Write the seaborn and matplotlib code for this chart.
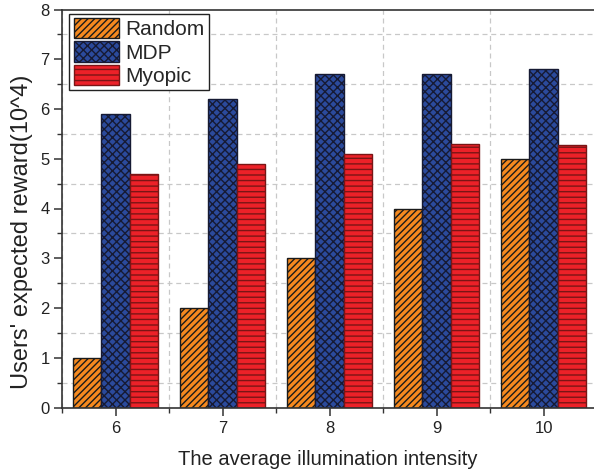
import matplotlib
matplotlib.use("Agg")
import matplotlib.pyplot as plt
import seaborn as sns
import pandas as pd
from matplotlib.patches import Patch
from matplotlib.ticker import MultipleLocator, FixedLocator

categories = ["6", "7", "8", "9", "10"]
random_vals = [1.0, 2.0, 3.0, 4.0, 5.0]
mdp_vals = [5.9, 6.2, 6.7, 6.7, 6.8]
myopic_vals = [4.7, 4.9, 5.1, 5.3, 5.28]
series_names = ["Random", "MDP", "Myopic"]

face_colors = ["#f5891f", "#2b4a9c", "#ec2128"]
hatch_colors = ["#1a1a1a", "#161a33", "#7a1515"]
hatches = ["/////", "xxxx", "---"]

rows = []
for name, vals in zip(series_names, [random_vals, mdp_vals, myopic_vals]):
    for c, v in zip(categories, vals):
        rows.append({"intensity": c, "series": name, "value": v})
df = pd.DataFrame(rows)

sns.set_theme(style="white")
plt.rcParams["font.family"] = ["Liberation Sans", "DejaVu Sans"]
plt.rcParams["hatch.linewidth"] = 1.0

fig = plt.figure(figsize=(5.94, 4.70), dpi=100)
ax = fig.add_axes([62 / 594, 1 - 407.5 / 470, (597 - 62) / 594, (407.5 - 9.5) / 470])

sns.barplot(data=df, x="intensity", y="value", hue="series", order=categories,
            hue_order=series_names, palette=face_colors, width=0.8,
            errorbar=None, ax=ax, legend=False, saturation=1)

for i, container in enumerate(ax.containers):
    for bar in container:
        bar.set_hatch(hatches[i])
        bar.set_edgecolor(hatch_colors[i])
        bar.set_linewidth(1.0)

ax.set_xlim(-0.5, 4.5)
ax.set_ylim(0, 8)
ax.yaxis.set_major_locator(MultipleLocator(1))
ax.yaxis.set_minor_locator(MultipleLocator(0.5))
ax.xaxis.set_minor_locator(FixedLocator([-0.5, 0.5, 1.5, 2.5, 3.5, 4.5]))

ax.grid(False)
ax.grid(which="minor", axis="both", color="#c8c8c8", linestyle=(0, (4, 3)), linewidth=0.9)
ax.set_axisbelow(True)

for s in ["left", "bottom", "top", "right"]:
    ax.spines[s].set_color("#333333")
    ax.spines[s].set_linewidth(1.2)

ax.tick_params(axis="both", which="both", bottom=True, left=True, top=False, right=False)
ax.tick_params(axis="both", which="major", direction="out", length=6, width=1.1,
               color="#333333", labelsize=12, labelcolor="#222222", pad=3)
ax.tick_params(axis="both", which="minor", direction="out", length=3.5, width=1.0,
               color="#333333")
ax.tick_params(axis="x", which="major", pad=3.5)

ax.set_xlabel("The average illumination intensity", fontsize=14.5, color="#222222")
ax.set_ylabel("Users' expected reward(10^4)", fontsize=17, color="#222222")
ax.xaxis.set_label_coords(0.497, -0.106)
ax.yaxis.set_label_coords(-0.054, 0.441)

handles = [Patch(facecolor=face_colors[i], edgecolor=hatch_colors[i], hatch=hatches[i],
                 linewidth=1.0, label=series_names[i]) for i in range(3)]
leg = ax.legend(handles=handles, loc="upper left", bbox_to_anchor=(0.01, 0.995),
                fontsize=15, frameon=True, fancybox=False, edgecolor="#222222",
                framealpha=1, handlelength=2.2, handleheight=1.15,
                labelspacing=0.1, borderpad=0.2, handletextpad=0.3, borderaxespad=0.1)
leg.get_frame().set_linewidth(1.0)

fig.savefig("out.png", dpi=100)
